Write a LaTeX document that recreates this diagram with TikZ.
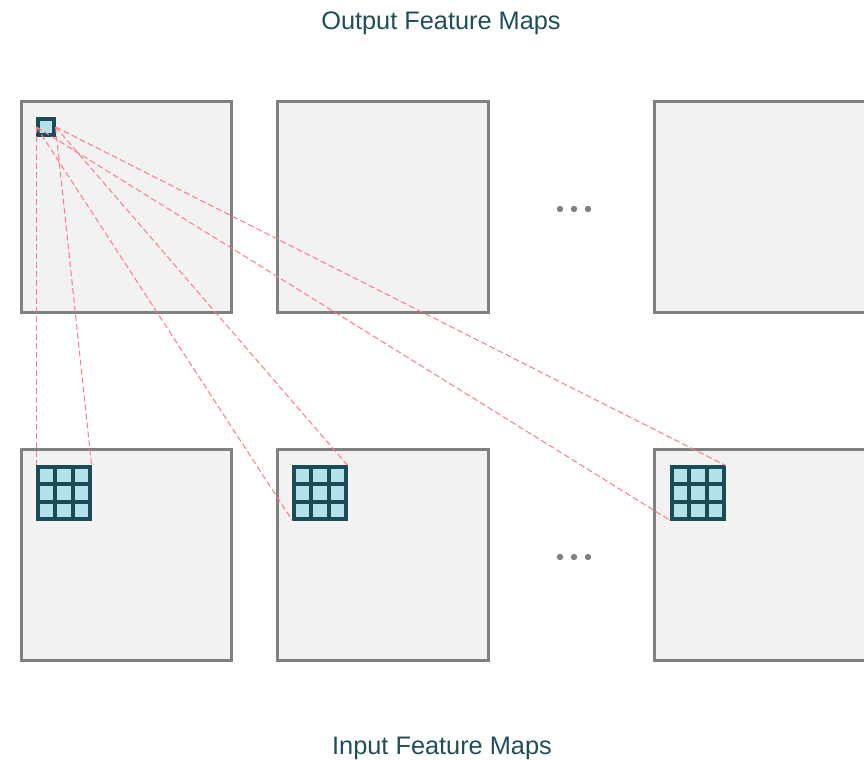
\documentclass[tikz,border=0pt]{standalone}
\usepackage{fontspec}
\setmainfont{Liberation Sans}
\definecolor{mapfill}{HTML}{F2F2F2}
\definecolor{mapedge}{HTML}{808080}
\definecolor{kfill}{HTML}{B3E2EA}
\definecolor{kedge}{HTML}{1B4B55}
\definecolor{titlecol}{HTML}{1F4E5A}
\definecolor{linkcol}{HTML}{FF7A84}

\begin{document}
\begin{tikzpicture}[x=0.75pt, y=-0.75pt,
  fmap/.style={draw=mapedge, fill=mapfill, line width=2.4pt, minimum size=158pt, inner sep=0},
  kern/.style={draw=kedge, fill=kfill, line width=2.35pt, minimum size=39pt, inner sep=0},
  pix/.style={draw=kedge, fill=kfill, line width=2.35pt, minimum size=12pt, inner sep=0},
  klin/.style={draw=kedge, line width=2.35pt},
  link/.style={draw=linkcol, line width=0.75pt, dash pattern=on 4.5pt off 2.25pt},
  lbl/.style={text=titlecol, font=\fontsize{19}{22}\selectfont}]
\useasboundingbox (0,0) rectangle (864,760);
\node[lbl] (outlbl) at (441,23) {Output Feature Maps};
\node[lbl] (inlbl) at (442,748) {Input Feature Maps};
% Feature maps
\node[fmap] (out1) at (126.5,207) {};
\node[fmap] (out2) at (383,207) {};
\node[fmap] (out3) at (760,207) {};
\node[fmap] (in1) at (126.5,555) {};
\node[fmap] (in2) at (383,555) {};
\node[fmap] (in3) at (760,555) {};
% Dots
\foreach \x in {560,574,588} {
  \fill[mapedge] (\x,209) circle (2.4pt);
  \fill[mapedge] (\x,557) circle (2.4pt);
}
% Kernels
\node[pix] (src) at (46,127) {};
\node[kern] (k1) at (64,493) {};
\node[kern] (k2) at (320,493) {};
\node[kern] (k3) at (698,493) {};
\foreach \x in {37,293,671} {
  \draw[klin] (\x+18,466) -- (\x+18,520);
  \draw[klin] (\x+36,466) -- (\x+36,520);
  \draw[klin] (\x,484) -- (\x+54,484);
  \draw[klin] (\x,502) -- (\x+54,502);
}
% Receptive field
\draw[link] (src.west) -- (k1.north west);
\draw[link] (src.east) -- (k1.north east);
\draw[link] (src.west) -- (k2.south west);
\draw[link] (src.east) -- (k2.north east);
\draw[link] (src.west) -- (k3.south west);
\draw[link] (src.east) -- (k3.north east);
\end{tikzpicture}
\end{document}
